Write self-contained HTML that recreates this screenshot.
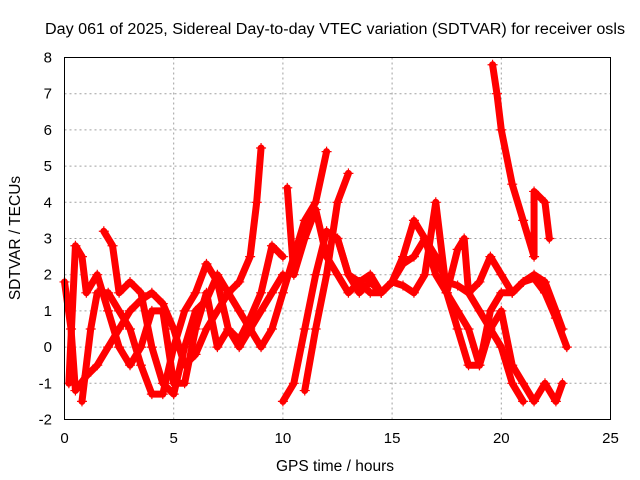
<!DOCTYPE html>
<html><head><meta charset="utf-8"><style>
body{margin:0;background:#fff;}
svg{display:block;font-family:"Liberation Sans",sans-serif;}
</style></head><body>
<svg id="chart" width="640" height="480" viewBox="0 0 640 480">
<text x="335" y="34" text-anchor="middle" font-size="15.5" textLength="580" lengthAdjust="spacingAndGlyphs">Day 061 of 2025, Sidereal Day-to-day VTEC variation (SDTVAR) for receiver osls</text>
<text x="335" y="471" text-anchor="middle" font-size="15.5">GPS time / hours</text>
<text transform="translate(20,238) rotate(-90)" text-anchor="middle" font-size="15.5">SDTVAR / TECUs</text>
<g id="grid"></g>
<g id="ticks"></g>
<g id="series"></g>
<rect x="64.5" y="57.5" width="546" height="362" fill="none" stroke="#000" stroke-width="1"/>
</svg>
<script>
const xTicks=[0,5,10,15,20,25];
const yTicks=[-2,-1,0,1,2,3,4,5,6,7,8];
const trackA=[[0,1.8],[0.3,0.5],[0.5,-1.2],[1,-0.8],[1.5,-0.5],[2,0],[2.5,0.5],[3,1],[3.5,1.3],[4,1.5],[4.5,1.2],[5,0.5],[5.5,-0.5],[6,-0.2],[6.5,0.5],[7,1],[7.5,1.5],[8,1.8],[8.5,2.5],[8.8,4],[9,5.5]];
const trackB=[[0.2,-1],[0.5,2.8],[0.8,2.5],[1,1.5],[1.5,2],[2,1],[2.5,0],[3,-0.5],[3.5,0],[4,1],[4.5,1],[5,-1],[5.5,-1],[6,0.5],[6.5,1.5],[7,0],[7.5,0.5],[8,0],[8.5,0.5],[9,1],[9.5,1.5],[10,2]];
const trackC=[[1.8,3.2],[2.2,2.8],[2.5,1.5],[3,1.8],[3.5,1.5],[4,0],[4.5,-1],[5,-1.3],[5.5,0],[6,1],[6.5,1.3],[7,2],[7.5,1.5],[8,1],[8.5,0.5],[9,0],[9.5,0.5],[10,1.5],[10.5,2.5],[11,3.5],[11.5,4],[12,5.4]];
const trackD=[[0.8,-1.5],[1.2,0.5],[1.5,1.5],[2,1.5],[2.5,1],[3,0.5],[3.5,-0.5],[4,-1.3],[4.5,-1.3],[5,0],[5.5,1],[6,1.5],[6.5,2.3],[7,1.8],[7.5,0.5],[8,0.2],[8.5,0.8],[9,1.5],[9.5,2.8],[10,2.5]];
const trackE=[[10,-1.5],[10.5,-1],[11,0.5],[11.5,2],[12,3.2],[12.5,3],[13,2],[13.5,1.8],[14,1.5],[14.5,1.5],[15,1.8],[15.5,2.3],[16,2.5],[16.5,3],[17,2.5],[17.5,1.8],[18,1.7],[18.5,1.5],[19,1.8],[19.5,2.5],[20,2],[20.5,1.5],[21,1.8],[21.5,2],[22,1.8],[22.5,1],[22.8,0.5]];
const trackF=[[11,-1.2],[11.5,0.5],[12,2],[12.5,4],[13,4.8]];
const trackG=[[10.2,4.4],[10.5,2],[11,3],[11.5,3.8],[12,2.5],[12.5,2],[13,1.5],[13.5,1.8],[14,2],[14.5,1.5],[15,1.8],[15.5,2.5],[16,3.5],[16.5,3],[17,2],[17.5,1.5],[18,1],[18.5,0.5],[19,-0.5],[19.5,1],[20,1.5],[20.5,1.5],[21,1.8],[21.5,1.9],[22,1.5],[22.5,0.8],[23,0]];
const trackH=[[12.5,3],[13,2],[13.5,1.5],[14,1.8],[14.5,1.5],[15,1.8],[15.5,1.7],[16,1.5],[16.5,2],[17,4],[17.5,1.5],[18,2.7],[18.3,3],[18.5,1.5],[19,1],[19.5,0.5],[20,0],[20.5,-1],[21,-1.5]];
const trackI=[[19.6,7.8],[19.8,7],[20,6],[20.5,4.5],[21,3.5],[21.5,2.5],[21.5,4.3],[22,4],[22.2,3]];
const trackJ=[[17.5,1.5],[18,0.5],[18.5,-0.5],[19,-0.5],[19.5,0.5],[20,1],[20.5,-0.5],[21,-1],[21.5,-1.5],[22,-1],[22.5,-1.5],[22.8,-1]];
const tracks=[trackA,trackB,trackC,trackD,trackE,trackF,trackG,trackH,trackI,trackJ];

const X0=64.5,X1=610.5,Y0=419.5,Y1=57.5;
const xs=v=>X0+(v-0)/(25-0)*(X1-X0);
const ys=v=>Y0-(v+2)/(10)*(Y0-Y1);
const NS="http://www.w3.org/2000/svg";
const grid=document.getElementById('grid'),ticks=document.getElementById('ticks'),series=document.getElementById('series');
function mk(tag,attrs,parent){const e=document.createElementNS(NS,tag);for(const k in attrs)e.setAttribute(k,attrs[k]);parent.appendChild(e);return e;}
xTicks.forEach(t=>{
  const x=xs(t);
  if(t>0&&t<25){const g=mk('line',{x1:x,x2:x,y1:Y0,y2:Y1,stroke:'#a0a0a0','stroke-dasharray':'2,3'},grid);
  
  }
  const l=mk('text',{x:x,y:443,'text-anchor':'middle','font-size':'15'},ticks);l.textContent=t;
  
  
});
yTicks.forEach(t=>{
  const y=ys(t);
  if(t>-2&&t<8){const g=mk('line',{x1:X0,x2:X1,y1:y,y2:y,stroke:'#a0a0a0','stroke-dasharray':'2,3'},grid);
  
  }
  const l=mk('text',{x:52,y:y+5,'text-anchor':'end','font-size':'15'},ticks);l.textContent=t;
  
  
});
tracks.forEach((tr,i)=>{
  const p=mk('polyline',{points:tr.map(d=>xs(d[0])+','+ys(d[1])).join(' '),fill:'none',stroke:'#ff0000','stroke-width':'7','stroke-linejoin':'round','stroke-linecap':'round'},series);
  
  
  tr.forEach(d=>{
    const m=mk('path',{d:`M${xs(d[0])-5},${ys(d[1])}h10M${xs(d[0])},${ys(d[1])-5}v10`,stroke:'#ff0000','stroke-width':'1.2'},series);
    
    
  });
});
</script>
</body></html>
